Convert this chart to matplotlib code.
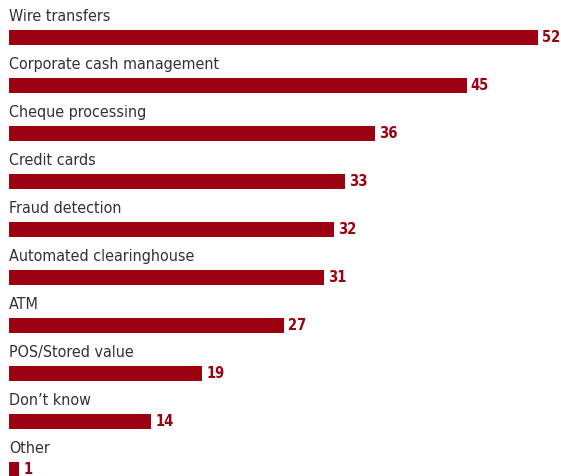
import matplotlib.pyplot as plt

# === DATA ===
categories = [
    "Wire transfers",
    "Corporate cash management",
    "Cheque processing",
    "Credit cards",
    "Fraud detection",
    "Automated clearinghouse",
    "ATM",
    "POS/Stored value",
    "Don\u2019t know",
    "Other",
]
values = [52, 45, 36, 33, 32, 31, 27, 19, 14, 1]

BAR_COLOR = "#9c0010"
LABEL_COLOR = "#333333"


def plot_data():
    fig = plt.figure(figsize=(5.61, 4.76), dpi=100)
    ax = fig.add_axes([0, 0, 1, 1])

    rows = list(range(len(categories)))
    ax.barh(rows, values, height=0.31, color=BAR_COLOR, left=0)

    for i, (name, v) in enumerate(zip(categories, values)):
        # category name sits above its bar
        ax.text(0, i - 0.43, name, ha="left", va="center",
                fontsize=11.5, color=LABEL_COLOR,
                family="DejaVu Sans", fontstretch="condensed")
        # value just past the bar end
        ax.text(v + 0.4, i + 0.0, str(v), ha="left", va="center",
                fontsize=10.5, fontweight="bold", color=BAR_COLOR,
                family="DejaVu Sans", fontstretch="condensed")

    ax.set_xlim(-0.885, 54.28)
    ax.set_ylim(9.135, -0.781)
    ax.axis("off")

    fig.savefig("out.png", dpi=100)


if __name__ == "__main__":
    plot_data()
